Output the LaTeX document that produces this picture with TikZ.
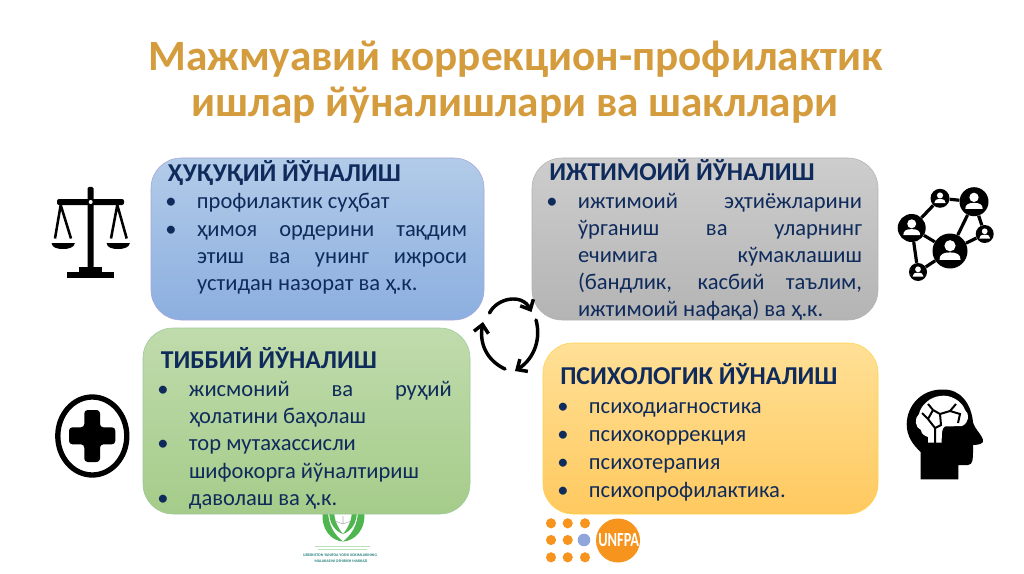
\documentclass[tikz,border=0pt]{standalone}
\usepackage{fontspec}
\setmainfont{Carlito}
\newfontfamily\titlefont{Carlito}
\usetikzlibrary{arrows.meta}
\definecolor{titlegold}{HTML}{D49C3C}
\definecolor{navy}{HTML}{0F2B5C}
\definecolor{logoorange}{HTML}{F7941E}
\definecolor{logogreen}{HTML}{4FB54F}
\tikzset{
 x=0.75pt,y=-0.75pt,
 boxtext/.style={anchor=base west,inner sep=0pt,outer sep=0pt,text=navy,font=\fontsize{16.9pt}{20.5pt}\selectfont},
 ttl/.style={anchor=base,inner sep=0pt,text=titlegold,font=\titlefont\bfseries\fontsize{32.4pt}{35pt}\selectfont},
 hub/.style={circle,fill=black,inner sep=0pt},
 link/.style={line width=2.4pt,black},
 cyc/.style={line width=2.6pt,black,line cap=round,-{Straight Barb[length=6pt,width=11pt,line width=2.6pt]}},
 dot/.style={circle,fill=logoorange,inner sep=0pt,minimum size=7.6pt},
 hd/.style={anchor=base west,inner sep=0pt,text=navy,font=\bfseries\fontsize{19.3pt}{22pt}\selectfont},
 logotx/.style={inner sep=0pt,text=teal!70!gray,font=\bfseries\fontsize{2.9pt}{3pt}\selectfont},
}
\newcommand{\jl}[2]{\makebox[#1][s]{#2}}
\newcommand{\bl}{\leavevmode\llap{\makebox[0pt]{\textbullet}\hspace{19.5pt}}}
\newcommand{\person}[3]{% centre x,y,radius
 \fill[white] (#1,#2-#3*0.3) circle[radius=#3*0.32];
 \fill[white] (#1-#3*0.6,#2+#3*0.5) .. controls (#1-#3*0.6,#2+#3*0.2) and (#1-#3*0.4,#2+#3*0.08) .. (#1,#2+#3*0.08) .. controls (#1+#3*0.4,#2+#3*0.08) and (#1+#3*0.6,#2+#3*0.2) .. (#1+#3*0.6,#2+#3*0.5) -- cycle;
}
\begin{document}
\begin{tikzpicture}
\useasboundingbox (0,0) rectangle (1024,574);
\fill[white] (0,0) rectangle (1024,574);
% title
\node[ttl] (t1) at (515.5,71) {Мажмуавий коррекцион-профилактик};
\node[ttl] (t2) at (515,116.5) {ишлар йўналишлари ва шакллари};

% green logo (behind the green card)
\begin{scope}[logogreen]
 \fill (323,510) .. controls (320,530) and (332,541) .. (343,541.5) .. controls (335,535) and (328,526) .. (328,510) -- cycle;
 \fill (364,510) .. controls (367,530) and (354,541) .. (343,541.5) .. controls (351,535) and (358,526) .. (358,510) -- cycle;
 \fill (329,510) .. controls (329,524) and (335,531) .. (343,534) .. controls (338,528) and (334,520) .. (334,510) -- cycle;
 \fill (357,510) .. controls (357,524) and (351,531) .. (343,534) .. controls (348,528) and (352,520) .. (352,510) -- cycle;
\end{scope}
\draw[gray!60,line width=0.4pt] (335,521) -- (343,524) -- (351,521) (343,516) -- (343,524);
\draw[logogreen!40,line width=0.5pt] (315,546) -- (370,546) (318,549) -- (367,549);
\node[logotx] (l3) at (340,555) {UZBEKISTON YANIFOA YOSHI XOKIMLARINING};
\node[logotx] (l4) at (341,561.5) {MALAKASINI OSHIRISH MARKAZI};

% UNFPA logo
\foreach \n/\a/\b in {a/551/523.3,b/567.7/523.3,c/585/523.3,d/551/540,e/567.7/540,f/551/557.3,g/567.7/557.3,h/585/557.3}
 \node[dot] (dot\n) at (\a,\b) {};
\node[circle,fill=cyan!40!blue!45!white,inner sep=0pt,minimum size=9.5pt] (un) at (584,540) {};
\node[circle,fill=logoorange,inner sep=0pt,minimum size=33pt] (fpa) at (618,540.5) {};
\node[anchor=west,inner sep=0pt,text=white,font=\bfseries\fontsize{15pt}{15pt}\selectfont] (fpat) at (598,540.5) {\scalebox{0.72}[1]{UNFPA}};

% cards
\draw[rounded corners=22.5pt,draw=blue!40!gray!50!white,top color={rgb,255:red,178;green,203;blue,232},bottom color={rgb,255:red,140;green,175;blue,224}] (151,158) rectangle (484,320);
\draw[rounded corners=22.5pt,draw=gray!60,top color={rgb,255:red,205;green,205;blue,205},bottom color={rgb,255:red,180;green,180;blue,180}] (532,158) rectangle (878,320);
\draw[rounded corners=22.5pt,draw=green!30!gray!60,top color={rgb,255:red,192;green,219;blue,172},bottom color={rgb,255:red,165;green,204;blue,138}] (143,328) rectangle (470,514);
\draw[rounded corners=22.5pt,draw=orange!50!yellow!70,top color={rgb,255:red,255;green,224;blue,150},bottom color={rgb,255:red,255;green,201;blue,95}] (543,343) rectangle (878,514);

% card headings
\node[hd] (h1) at (167,181) {ҲУҚУҚИЙ ЙЎНАЛИШ};
\node[hd] (h2) at (549,180.5) {ИЖТИМОИЙ ЙЎНАЛИШ};
\node[hd] (h3) at (160.5,368) {ТИББИЙ ЙЎНАЛИШ};
\node[hd] (h4) at (560,384) {ПСИХОЛОГИК ЙЎНАЛИШ};

% card bodies
\node[boxtext] (b1) at (197,209) {\begin{minipage}[t]{202.5pt}\baselineskip=20.5pt
\bl профилактик суҳбат\par
\bl\jl{202.5pt}{ҳимоя ордерини тақдим}\par
\jl{202.5pt}{этиш ва унинг ижроси}\par
устидан назорат ва ҳ.к.
\end{minipage}};
\node[boxtext] (b2) at (578,209) {\begin{minipage}[t]{213pt}\baselineskip=20.1pt
\bl\jl{213pt}{ижтимоий эҳтиёжларини}\par
\jl{213pt}{ўрганиш ва уларнинг}\par
\jl{213pt}{ечимига кўмаклашиш}\par
\jl{213pt}{(бандлик, касбий таълим,}\par
ижтимоий нафақа) ва ҳ.к.
\end{minipage}};
\node[boxtext] (b3) at (189,396.5) {\begin{minipage}[t]{197pt}\baselineskip=20.4pt
\bl\jl{197pt}{жисмоний ва руҳий}\par
ҳолатини баҳолаш\par
\bl тор мутахассисли\par
шифокорга йўналтириш\par
\bl даволаш ва ҳ.к.
\end{minipage}};
\node[boxtext] (b4) at (589,413) {\begin{minipage}[t]{200pt}\baselineskip=21pt
\bl психодиагностика\par
\bl психокоррекция\par
\bl психотерапия\par
\bl психопрофилактика.
\end{minipage}};

% scales
\fill[black,rounded corners=1pt] (87.5,187) -- (93.5,187) -- (93.5,268) -- (87.5,268) -- cycle;
\fill[black,rounded corners=1.5pt] (57,199) rectangle (124,205);
\fill[black] (79,267) rectangle (102,272);
\fill[black] (67,271.5) rectangle (114,278);
\fill[white] (90.7,202) circle[radius=1.5pt];
\draw[black,line width=1.9pt] (55,238.5) -- (60.7,205) -- (71,238.5);
\draw[black,line width=1.9pt] (111,238.5) -- (117.3,205) -- (126.7,238.5);
\fill[black] (51.5,243) -- (75,243) .. controls (74,248) and (68,249) .. (63,249) .. controls (58,249) and (52,248) .. (51.5,243) -- cycle;
\fill[black] (106.5,243) -- (130,243) .. controls (129,248) and (123,249) .. (118,249) .. controls (113,249) and (107,248) .. (106.5,243) -- cycle;

% network
\foreach \n/\a/\b/\r in {A/940/198.3/9.5,B/974/201.7/14.5,C/911.7/228/14,D/950/251/17.5,E/984.7/234/9,F/918/272/9}
 \node[hub,minimum size=2*\r*0.75pt] (\n) at (\a,\b) {};
\draw[link] (A)--(B) (A)--(C) (B)--(D) (B)--(E) (D)--(E) (C)--(D) (C)--(F) (F)--(D);
\person{940}{198.3}{9.5}
\person{974}{201.7}{14.5}
\person{911.7}{228}{14}
\person{950}{251}{17.5}
\person{984.7}{234}{9}
\person{918}{272}{9}

% cycle arrows
\coordinate (c1s) at (489.5,313);
\coordinate (c1e) at (531.5,312);
\coordinate (c2s) at (536,320);
\coordinate (c2e) at (515,371);
\coordinate (c3s) at (505,369);
\coordinate (c3e) at (483,322);
\draw[cyc] (c1s) .. controls (497,298) and (522,293) .. (c1e);
\draw[cyc] (c2s) .. controls (541,338) and (535,358) .. (c2e);
\draw[cyc] (c3s) .. controls (488,361) and (479,345) .. (c3e);

% plus
\draw[black,line width=4pt] (92.3,436) ellipse[x radius=34.5,y radius=39];
\fill[black,rounded corners=2.5pt] (84.3,410) -- (100,410) -- (100,427.3) -- (115.3,427.3) -- (115.3,444.3) -- (100,444.3) -- (100,462) -- (84.3,462) -- (84.3,444.3) -- (69,444.3) -- (69,427.3) -- (84.3,427.3) -- cycle;

% head
\fill[black] (920.7,479.3) -- (958.3,479.3) -- (958.3,465) -- (968,465) .. controls (973,465) and (973,458) .. (973,452) -- (973,445) .. controls (980,445) and (984,443) .. (983,440) .. controls (982,435) and (974,428) .. (973,422) .. controls (971,403) and (960,389) .. (943,389.5) .. controls (922,389) and (907,405) .. (906.7,424) .. controls (906.5,436) and (913,445) .. (920.7,452) -- cycle;
\fill[white] (928,442.5) -- (928,437) .. controls (925,436) and (921,434) .. (921,430) .. controls (915,428) and (914,418) .. (919,414) .. controls (921,405) and (930,397) .. (940,396) .. controls (950,394) and (962,401) .. (965,410) .. controls (970,414) and (969,423) .. (962,426) -- (945,426.5) .. controls (942,428) and (941.7,432) .. (941.7,442.5) -- cycle;
\draw[black,line width=1.5pt] (935,443) -- (935,428) -- (928,419) (935,428) -- (941,425) -- (940,414) -- (950,411) -- (956,404) (950,411) -- (960,414) -- (958,423) (940,414) -- (933,410) -- (928,419) -- (922,413) (933,410) -- (928,404);
\end{tikzpicture}
\end{document}
